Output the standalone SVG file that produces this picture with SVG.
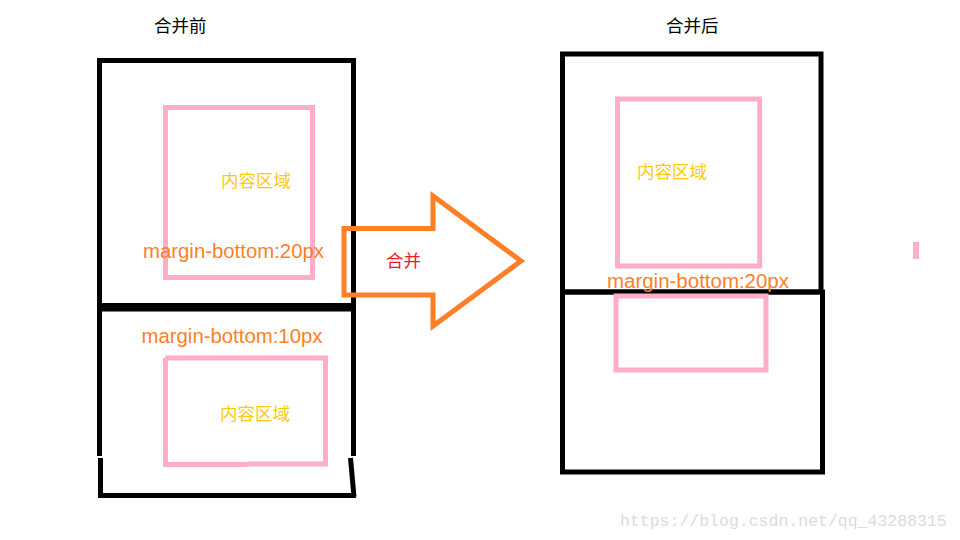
<svg xmlns="http://www.w3.org/2000/svg" width="960" height="540" viewBox="0 0 960 540">
<style>
.box{fill:none;stroke:#000;stroke-width:5}
.pink{fill:none;stroke:#ffaec9;stroke-width:5}
.title{font-family:"Noto Sans CJK SC","Liberation Sans",sans-serif;font-size:17.5px;fill:#000}
.content{font-family:"Noto Sans CJK SC","Liberation Sans",sans-serif;font-size:17.5px;fill:#ffc90e}
.margin{font-family:"Liberation Sans",Arial,sans-serif;font-size:20px;fill:#ff7f27}
.merge{font-family:"Noto Sans CJK SC","Liberation Sans",sans-serif;font-size:17.5px;fill:#ed1c24}
.wm{font-family:"Liberation Mono",monospace;font-size:16.5px;fill:#dedbd8}
</style>
<rect width="960" height="540" fill="#fff"/>
<g id="title-before"><text class="title" x="154" y="32">合并前</text></g>
<g id="title-after"><text class="title" x="666" y="32">合并后</text></g>

<g id="before-top">
<rect class="box" x="99.5" y="60.5" width="254" height="245"/>
<rect class="pink" x="165.5" y="107.5" width="147" height="170"/>
<text class="content" x="221" y="186.5">内容区域</text>
<text class="margin" x="143" y="257.5" textLength="181" lengthAdjust="spacingAndGlyphs">margin-bottom:20px</text>
</g>

<g id="before-bottom">
<path class="box" d="M97,309 H356 M99.5,309 V456 M100.5,458 V496 M353.5,309 V456 M350.5,458 L354,497 M98,495.5 H356" fill="none"/>
<path class="pink" d="M165.5,358 H325.5 V464 H247 M247,464.5 H165.5 V358"/>
<text class="content" x="220" y="420">内容区域</text>
<text class="margin" x="141.5" y="343" textLength="181" lengthAdjust="spacingAndGlyphs">margin-bottom:10px</text>
</g>

<g id="after-top">
<rect class="box" x="562.5" y="54" width="258.5" height="238"/>
<rect class="pink" x="617.5" y="99" width="142.2" height="167"/>
<text class="content" x="637" y="177.5">内容区域</text>
</g>

<g id="after-bottom">
<rect class="box" x="562.5" y="292" width="260" height="180"/>
<rect class="pink" x="616" y="296" width="150" height="74"/>
<text class="margin" x="607" y="288" textLength="182" lengthAdjust="spacingAndGlyphs">margin-bottom:20px</text>
</g>

<g id="connectors">
<polygon points="344,228.5 433,228.5 433,196 521,261 433,326 433,295 344,295" fill="none" stroke="#ff7f27" stroke-width="5" stroke-linejoin="miter"/>
<text class="merge" x="386" y="267">合并</text>
</g>

<g id="mark"><rect x="913" y="242" width="6" height="17" fill="#ffaec9"/></g>
<g id="watermark"><text class="wm" x="620" y="526">https://blog.csdn.net/qq_43288315</text></g>
</svg>
